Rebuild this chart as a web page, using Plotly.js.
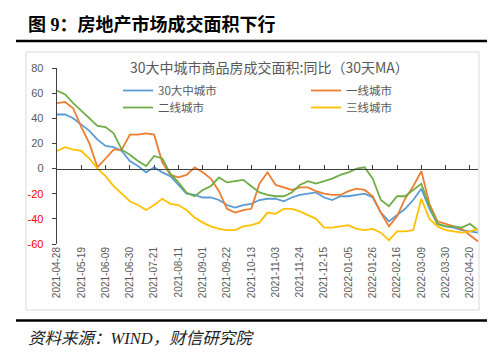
<!DOCTYPE html>
<html>
<head>
<meta charset="utf-8">
<script src="https://cdn.plot.ly/plotly-3.0.1.min.js"></script>
<style>html,body{margin:0;padding:0;background:#fff;}#chart{width:500px;height:355px;}</style>
</head>
<body>
<div id="chart"></div>
<script>
// ---- data (weekly readings, 30-day MA YoY %) ----
var dates = ['2021-04-28','2021-05-05','2021-05-12','2021-05-19','2021-05-26','2021-06-02','2021-06-09','2021-06-16','2021-06-23','2021-06-30',
'2021-07-07','2021-07-14','2021-07-21','2021-07-28','2021-08-04','2021-08-11','2021-08-18','2021-08-25','2021-09-01','2021-09-08',
'2021-09-15','2021-09-22','2021-09-29','2021-10-06','2021-10-13','2021-10-20','2021-10-27','2021-11-03','2021-11-10','2021-11-17',
'2021-11-24','2021-12-01','2021-12-08','2021-12-15','2021-12-22','2021-12-29','2022-01-05','2022-01-12','2022-01-19','2022-01-26',
'2022-02-02','2022-02-09','2022-02-16','2022-02-23','2022-03-02','2022-03-09','2022-03-16','2022-03-23','2022-03-30','2022-04-06',
'2022-04-13','2022-04-20','2022-04-27'];
var city30 = [43,43,40,35,30,23,18,17,14,6,2,-3,1,-3,-6,-13,-20,-21,-23,-23,-25,-29,-31,-29,-28,-25,-24,-24,-26,-23,-21,-20,-19,-23,-25,-22,-22,-21,-20,-23,-35,-42,-37,-32,-25,-16,-32,-44,-46,-47,-49,-50,-51];
var tier1 = [52,53,48,33,20,1,8,15,15,27,27,28,27,5,-5,-7,-5,1,-3,-8,-18,-32,-35,-33,-32,-12,-3,-13,-15,-17,-15,-15,-18,-20,-21,-21,-18,-16,-17,-22,-35,-46,-38,-24,-14,-2,-28,-42,-44,-46,-48,-53,-58];
var tier2 = [62,59,52,46,40,34,33,28,15,11,6,2,10,8,-4,-11,-19,-22,-17,-14,-7,-11,-10,-9,-14,-19,-21,-22,-22,-19,-13,-10,-12,-10,-8,-5,-3,0,1,-8,-25,-30,-22,-22,-17,-12,-30,-44,-46,-46,-47,-44,-49];
var tier3 = [14,17,15,14,8,0,-6,-14,-20,-26,-29,-33,-29,-24,-28,-29,-33,-39,-43,-46,-48,-49,-49,-46,-45,-43,-35,-36,-32,-32,-34,-37,-40,-47,-47,-46,-45,-48,-49,-48,-51,-57,-50,-50,-49,-24,-40,-46,-49,-50,-51,-50,-48];
var seriesNames = ['30大中城市','一线城市','二线城市','三线城市'];
var seriesColors = ['#5B9BD5','#ED7D31','#70AD47','#FFC000'];
var tickDates = ['2021-04-28','2021-05-19','2021-06-09','2021-06-30','2021-07-21','2021-08-11','2021-09-01','2021-09-22','2021-10-13',
'2021-11-03','2021-11-24','2021-12-15','2022-01-05','2022-01-26','2022-02-16','2022-03-09','2022-03-30','2022-04-20'];
var yTicks = [-60,-40,-20,0,20,40,60,80];
var figTitle = '图 9：房地产市场成交面积下行';
var chartTitle = '30大中城市商品房成交面积:同比（30天MA）';
var sourceText = '资料来源：WIND，财信研究院';

// ---- layout helpers ----
var W = 500, H = 355, ML = 57, MR = 22, MT = 68, MB = 111;
var PW = W - ML - MR, PH = H - MT - MB;
function fx(p){ return (p - ML) / PW; }
function fy(p){ return (H - MB - p) / PH; }

var allSeries = [city30, tier1, tier2, tier3];
var legendPos = [[118, 90.5], [306, 90.5], [118, 107.5], [306, 107.5]];
var legendIds = ['legend','legend2','legend3','legend4'];
var traces = allSeries.map(function(s, i){
  return {x: dates, y: s, type: 'scatter', mode: 'lines', name: seriesNames[i],
    line: {color: seriesColors[i], width: 1.8}, legend: legendIds[i], hoverinfo: 'skip'};
});
// helper trace for the category axis drawn at y = 0
traces.push({x: [dates[0]], y: [0], xaxis: 'x2', yaxis: 'y', mode: 'lines', showlegend: false, hoverinfo: 'skip', line: {width: 0}});

var yTickText = yTicks.map(function(v){
  return v < 0 ? '<span style="color:#FF0000">' + v + '</span>' : String(v);
});
var zeroPos = (0 - (-60)) / (80 - (-60));
var xRange = [dates[0], dates[dates.length - 1]];
var fontCJK = '"Noto Sans CJK SC", "Noto Sans", sans-serif';
var fontSerifCJK = '"Liberation Serif", "Noto Sans CJK SC", serif';

var layout = {
  width: W, height: H,
  margin: {l: ML, r: MR, t: MT, b: MB, pad: 0},
  paper_bgcolor: '#fff', plot_bgcolor: '#fff',
  showlegend: true,
  xaxis: {type: 'date', range: xRange, tickmode: 'array', tickvals: tickDates, ticktext: tickDates,
    tickangle: -90, showgrid: false, zeroline: false, showline: false, ticks: '',
    tickfont: {family: '"Liberation Sans", Arial, sans-serif', size: 10, color: '#595959'}},
  xaxis2: {type: 'date', range: xRange, overlaying: 'x', anchor: 'free', position: zeroPos, side: 'bottom',
    tickmode: 'array', tickvals: tickDates, showticklabels: false, showgrid: false, zeroline: false,
    showline: true, linecolor: '#404040', linewidth: 1.3, ticks: 'inside', ticklen: 4, tickcolor: '#404040', tickwidth: 1},
  yaxis: {range: [-60, 80], tickmode: 'array', tickvals: yTicks, ticktext: yTickText,
    showgrid: false, zeroline: false, showline: true, linecolor: '#404040', linewidth: 1.3,
    ticks: 'outside', ticklen: 4, tickcolor: '#404040', ticklabelstandoff: 6,
    tickfont: {family: '"Liberation Sans", Arial, sans-serif', size: 11, color: '#595959'}},
  shapes: [
    {type: 'rect', xref: 'paper', yref: 'paper', x0: fx(26), x1: fx(479), y0: fy(52), y1: fy(310),
      line: {color: '#D9D9D9', width: 1}, fillcolor: 'rgba(0,0,0,0)', layer: 'below'},
    {type: 'line', xref: 'paper', yref: 'paper', x0: fx(16), x1: fx(487), y0: fy(41), y1: fy(41),
      line: {color: '#000', width: 2.5}},
    {type: 'line', xref: 'paper', yref: 'paper', x0: fx(16), x1: fx(487), y0: fy(320.5), y1: fy(320.5),
      line: {color: '#000', width: 2.5}}
  ],
  annotations: [
    {text: '<b>' + figTitle + '</b>', xref: 'paper', yref: 'paper', x: fx(26), y: fy(24), xanchor: 'left', yanchor: 'middle',
      showarrow: false, font: {family: fontSerifCJK, size: 18, color: '#000'}},
    {text: chartTitle, xref: 'paper', yref: 'paper', x: fx(269), y: fy(67), xanchor: 'center', yanchor: 'middle',
      showarrow: false, font: {family: fontCJK, size: 14, color: '#595959'}},
    {text: '<i>' + sourceText + '</i>', xref: 'paper', yref: 'paper', x: fx(26), y: fy(338), xanchor: 'left', yanchor: 'middle',
      showarrow: false, font: {family: fontSerifCJK, size: 16.5, color: '#222'}}
  ]
};
legendIds.forEach(function(id, i){
  layout[id] = {x: fx(legendPos[i][0]), y: fy(legendPos[i][1]), xanchor: 'left', yanchor: 'middle',
    bgcolor: 'rgba(0,0,0,0)', borderwidth: 0,
    font: {family: fontCJK, size: 11.5, color: '#595959'}};
});

Plotly.newPlot('chart', traces, layout, {staticPlot: true, displayModeBar: false});
</script>
</body>
</html>
